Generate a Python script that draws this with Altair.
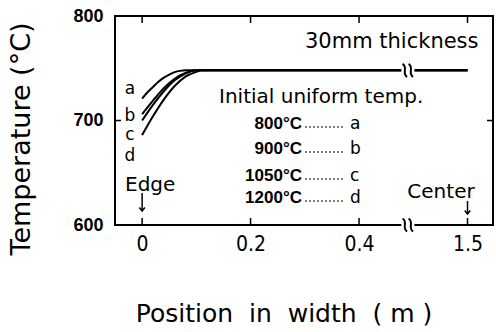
import altair as alt
import pandas as pd

# ---------------- data ----------------
curve_names = ["a", "b", "c", "d"]
pos_a = [0.0, 0.01, 0.02, 0.03, 0.04, 0.05, 0.06, 0.07, 0.08, 1.5]
temp_a = [721, 727, 732, 737, 741, 744, 746.3, 747.5, 748, 748]
pos_b = [0.0, 0.02, 0.04, 0.06, 0.08, 0.10, 1.5]
temp_b = [706, 719, 731, 740, 745.5, 748, 748]
pos_c = [0.0, 0.02, 0.04, 0.06, 0.08, 0.10, 1.5]
temp_c = [700, 715, 728, 738.5, 745, 748, 748]
pos_d = [0.0, 0.02, 0.04, 0.06, 0.08, 0.10, 0.11, 1.5]
temp_d = [686, 704, 720, 733, 742, 746.5, 748, 748]

initial_temps = ["800°C", "900°C", "1050°C", "1200°C"]
x_tick_values = [0, 0.2, 0.4, 1.5]
x_tick_labels = ["0", "0.2", "0.4", "1.5"]
y_tick_values = [600, 700, 800]
plateau_temp = 748
edge_pos = 0.0
center_pos = 1.5
break_display = 0.49   # axis break between 0.4 and 1.5

NB = "\u00a0"


def to_axis(x):
    """Broken axis: positions beyond the break are shifted left by 0.9 m."""
    return round(x if x <= 0.5 else x - 0.9, 6)


rows = []
for name, ps, ts in zip(curve_names, [pos_a, pos_b, pos_c, pos_d],
                        [temp_a, temp_b, temp_c, temp_d]):
    for i, (p, t) in enumerate(zip(ps, ts)):
        rows.append({"series": name, "order": i, "xd": to_axis(p), "temp": t})
curves = pd.DataFrame(rows)

W, H = 378, 209
X_DOMAIN = [-0.05, 0.647]
xscale = alt.Scale(domain=X_DOMAIN, nice=False, zero=False)
yscale = alt.Scale(domain=[600, 800], nice=False, zero=False)

label_expr = " : ".join(
    f"abs(datum.value - {to_axis(v)}) < 1e-6 ? '{lab}'"
    for v, lab in zip(x_tick_values, x_tick_labels)
) + " : ''"

X_AXIS = alt.Axis(values=[to_axis(v) for v in x_tick_values],
                  labelExpr=label_expr, ticks=False, domain=False,
                  grid=False, labelFont="DejaVu Sans Condensed",
                  labelFontSize=21, labelPadding=8, labelColor="black", title=None)
Y_AXIS = alt.Axis(values=y_tick_values, ticks=False, domain=False,
                  grid=False, labelFont="Liberation Sans",
                  labelFontWeight="bold", labelFontSize=18,
                  labelPadding=12, labelColor="black", title=None)


def X(field):
    return alt.X(field, scale=xscale, axis=X_AXIS, title=None)


def Y(field):
    return alt.Y(field, scale=yscale, axis=Y_AXIS, title=None)


lines = alt.Chart(curves).mark_line(
    color="black", strokeWidth=2, interpolate="monotone"
).encode(
    x=X("xd:Q"), y=Y("temp:Q"),
    detail="series:N", order="order:Q",
)

# inward ticks
xt = pd.DataFrame({"xd": [to_axis(v) for v in x_tick_values]})
bottom_ticks = alt.Chart(xt).mark_rule(color="black", strokeWidth=1.5).encode(
    x=X("xd:Q"), y=alt.value(H), y2=alt.value(H - 7))
top_ticks = alt.Chart(xt).mark_rule(color="black", strokeWidth=1.5).encode(
    x=X("xd:Q"), y=alt.value(0), y2=alt.value(7))
yt = pd.DataFrame({"temp": y_tick_values})
left_ticks = alt.Chart(yt).mark_rule(color="black", strokeWidth=1.5).encode(
    y=Y("temp:Q"), x=alt.value(0), x2=alt.value(6))
right_ticks = alt.Chart(yt).mark_rule(color="black", strokeWidth=1.5).encode(
    y=Y("temp:Q"), x=alt.value(W), x2=alt.value(W - 6))

# axis break gaps + squiggles
gaps = pd.DataFrame({"x1": [break_display - 0.012] * 2, "x2": [break_display + 0.012] * 2,
                     "y1": [plateau_temp - 2.5, 597.5], "y2": [plateau_temp + 2.5, 602.5]})
gap_rects = alt.Chart(gaps).mark_rect(color="white").encode(
    x=X("x1:Q"), x2="x2:Q", y=Y("y1:Q"), y2="y2:Q")
squig = pd.DataFrame({"xd": [break_display] * 2, "temp": [plateau_temp, 600]})
squiggle_shape = "M -0.35 -1 C 0.55 -0.45 -0.55 0.45 0.35 1"
squiggles = [
    alt.Chart(squig).mark_point(shape=squiggle_shape, filled=False, color="black",
                                strokeWidth=2, size=170, opacity=1, xOffset=off).encode(
        x=X("xd:Q"), y=Y("temp:Q"))
    for off in (-3, 3)
]

# Edge / Center arrows
arr = pd.DataFrame({"xd": [to_axis(edge_pos), to_axis(center_pos)],
                    "y1": [177, 185], "y2": [195, 198]})
arrow_lines = alt.Chart(arr).mark_rule(color="black", strokeWidth=1.5).encode(
    x=X("xd:Q"), y=alt.Y("y1:Q", scale=None), y2="y2:Q")
arrow_heads = alt.Chart(arr).mark_point(shape="M -1 -1.3 L 0 0 L 1 -1.3", filled=False,
                                        color="black", strokeWidth=1.5, size=30,
                                        opacity=1).encode(
    x=X("xd:Q"), y=alt.Y("y2:Q", scale=None))


def texts(items, align="left", font="DejaVu Sans", weight="normal", angle=0):
    df = pd.DataFrame(items, columns=["text", "px", "py", "fs"])
    return alt.Chart(df).mark_text(align=align, baseline="middle", font=font,
                                   fontWeight=weight, angle=angle, color="black").encode(
        x=alt.X("px:Q", scale=None), y=alt.Y("py:Q", scale=None),
        text="text:N", size=alt.Size("fs:Q", scale=None, legend=None))


row_y = [108, 133, 160, 182]
left_texts = texts([
    ("30mm thickness", 190, 26, 21),
    ("Initial uniform temp.", 104, 81, 20),
    ("Edge", 10, 169, 20),
] + [(n, 235, y, 17) for n, y in zip(curve_names, row_y)])
center_texts = texts([("Center", 326, 176, 20)] +
                     [(n, 15, y, 17) for n, y in zip(curve_names, [73, 100, 119, 140])],
                     align="center")
temp_texts = texts([(t, 187, y, 17) for t, y in zip(initial_temps, row_y)],
                   align="right", font="Liberation Sans", weight="bold")
dots = pd.DataFrame({"py": [y + 3 for y in row_y]})
dot_lines = alt.Chart(dots).mark_rule(color="black", strokeWidth=1.2, strokeDash=[2, 2]).encode(
    x=alt.value(190), x2=alt.value(230), y=alt.Y("py:Q", scale=None))

y_title = texts([("Temperature (°C)", -93, 123, 27)], align="center", angle=270)
x_title_text = f"Position{NB} in{NB} width{NB} ({NB}m{NB})"
x_title = texts([(x_title_text, 169, 298, 25)], align="center")

chart = alt.layer(
    lines, gap_rects, *squiggles, bottom_ticks, top_ticks, left_ticks, right_ticks,
    arrow_lines, arrow_heads, dot_lines, left_texts, center_texts, temp_texts,
    y_title, x_title,
).properties(
    width=W, height=H, autosize="none", background="white",
    padding={"left": 115, "top": 16, "right": 3, "bottom": 107},
).configure_view(stroke="black", strokeWidth=2)

chart.save("out.html", embed_options={"renderer": "svg", "actions": False})
